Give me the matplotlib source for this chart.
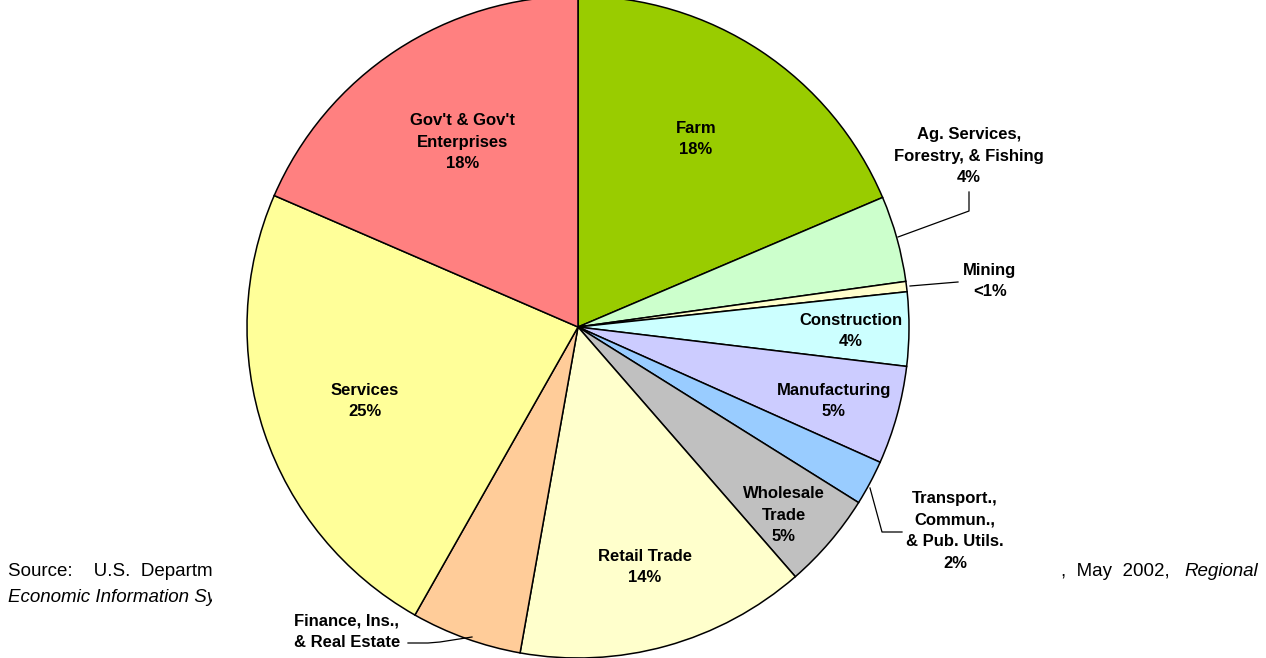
import matplotlib
matplotlib.use("Agg")
from matplotlib import pyplot as plt
from matplotlib.patches import Rectangle

plt.rcParams['font.family'] = ['Liberation Sans', 'DejaVu Sans']

# sector shares (% of total), clockwise from 12 o'clock
sectors = ["Farm", "Ag. Services", "Mining", "Construction", "Manufacturing",
           "Transport", "Wholesale", "Retail", "Finance", "Services", "Gov't"]
shares = [18.6, 4.2, 0.5, 3.6, 4.8, 2.2, 4.7, 14.2, 5.4, 23.3, 18.5]
colors = ["#99CC00", "#CCFFCC", "#FFFFCC", "#CCFFFF", "#CCCCFF", "#99CCFF",
          "#C0C0C0", "#FFFFCC", "#FFCC99", "#FFFF99", "#FF8080"]

labels = ["Farm\n18%",
          "Ag. Services,\nForestry, & Fishing\n4%",
          "Mining\n<1%",
          "Construction\n4%",
          "Manufacturing\n5%",
          "Transport.,\nCommun.,\n& Pub. Utils.\n2%",
          "Wholesale\nTrade\n5%",
          "Retail Trade\n14%",
          "Finance, Ins.,\n& Real Estate",
          "Services\n25%",
          "Gov't & Gov't\nEnterprises\n18%"]

W, H = 1266, 658
fig = plt.figure(figsize=(W / 100, H / 100), dpi=100)
ax = fig.add_axes([0, 0, 1, 1])

def py(y):
    # pixel row -> data y
    return H - y

# source note, partly hidden behind the chart box
ax.text(8, py(571), "Source:    U.S.  Department of Commerce, Bureau of Economic Analysis",
        fontsize=13.5, va="center", ha="left", zorder=0)
ax.text(1170, py(571), ",  May  2002,", fontsize=13.5, va="center", ha="right", zorder=0)
ax.text(1258, py(571), "Regional", fontsize=13.5, va="center", ha="right",
        style="italic", zorder=0)
ax.text(8, py(597), "Economic Information System", fontsize=13.5, va="center",
        ha="left", style="italic", zorder=0)
ax.add_patch(Rectangle((212, 0), 840, H, facecolor="white", edgecolor="none", zorder=1))

wedges, _ = ax.pie(shares, colors=colors, startangle=90, counterclock=False,
                   center=(578, py(327)), radius=331, frame=True,
                   wedgeprops=dict(edgecolor="black", linewidth=1.1))
for w in wedges:
    w.set_zorder(2)
ax.set_xlim(0, W)
ax.set_ylim(0, H)
ax.axis("off")

label_pos = [(696, 139), (969, 156), (990, 281), (851, 331), (834, 401),
             (955, 531), (784, 515), (645, 567), (347, 632), (365, 401),
             (463, 142)]
for text, (x, y) in zip(labels, label_pos):
    ax.text(x, py(y), text, ha="center", va="center", fontsize=12,
            fontweight="bold", linespacing=1.55, zorder=5)

# leader lines
kw = dict(color="black", linewidth=0.9, zorder=4)
ax.plot([898, 969, 969], [py(237), py(211), py(192)], **kw)
ax.plot([910, 958], [py(286), py(282)], **kw)
ax.plot([870, 882, 902], [py(488), py(532), py(532)], **kw)
ax.plot([472, 440, 428, 408], [py(637), py(642), py(643), py(643)], **kw)

fig.savefig("out.png", dpi=100)
